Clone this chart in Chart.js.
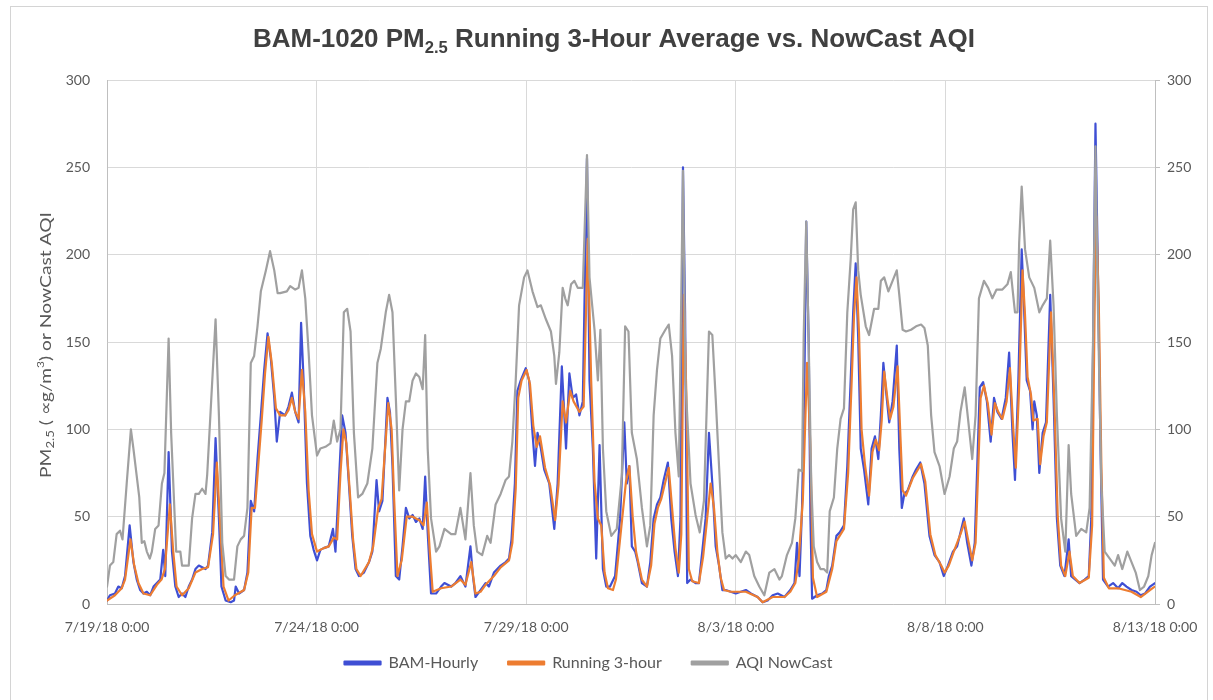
<!DOCTYPE html>
<html>
<head>
<meta charset="utf-8">
<script src="https://cdn.jsdelivr.net/npm/chart.js@4.4.1/dist/chart.umd.min.js"></script>
<style>
html,body{margin:0;padding:0;background:#fff;}
#wrap{width:1213px;height:700px;}
</style>
</head>
<body>
<div id="wrap"><canvas id="c" width="1213" height="700"></canvas></div>
<script>
// ---- data (x = days since 7/19/18 0:00) ----
const tickDays = [0, 5, 10, 15, 20, 25];
const tickLabels = ["7/19/18 0:00", "7/24/18 0:00", "7/29/18 0:00", "8/3/18 0:00", "8/8/18 0:00", "8/13/18 0:00"];
const yTicks = [0, 50, 100, 150, 200, 250, 300];
const seriesNames = ["BAM-Hourly", "Running 3-hour", "AQI NowCast"];

const bamDay = [
0,0.07,0.19,0.27,0.35,0.43,0.54,0.63,0.71,0.79,
0.87,0.95,1.03,1.11,1.19,1.27,1.34,1.39,1.47,1.55,
1.63,1.71,1.79,1.87,1.95,2.03,2.11,2.19,2.27,2.35,
2.41,2.51,2.59,2.67,2.73,2.83,2.95,3.03,3.07,3.15,
3.27,3.35,3.43,3.51,3.59,3.67,3.75,3.83,3.91,3.99,
4.05,4.13,4.25,4.33,4.41,4.49,4.57,4.63,4.69,4.77,
4.85,4.93,5.01,5.09,5.17,5.29,5.39,5.45,5.53,5.61,
5.69,5.77,5.85,5.93,6.01,6.13,6.25,6.33,6.43,6.49,
6.57,6.69,6.75,6.81,6.89,6.97,7.05,7.13,7.21,7.29,
7.37,7.45,7.53,7.59,7.65,7.73,7.85,7.97,8.05,8.21,
8.31,8.43,8.55,8.67,8.73,8.79,8.91,9.03,9.11,9.23,
9.39,9.51,9.59,9.65,9.73,9.79,9.87,9.99,10.07,10.15,
10.21,10.27,10.35,10.43,10.55,10.67,10.75,10.85,10.91,10.95,
11.03,11.11,11.19,11.27,11.35,11.45,11.51,11.59,11.67,11.75,
11.83,11.91,12.0,12.12,12.24,12.34,12.4,12.46,12.52,12.6,
12.66,12.76,12.88,12.96,13.04,13.12,13.2,13.28,13.38,13.46,
13.54,13.62,13.68,13.74,13.79,13.84,13.92,14.04,14.12,14.2,
14.28,14.36,14.44,14.52,14.6,14.68,14.76,14.88,15.0,15.12,
15.24,15.36,15.52,15.64,15.76,15.88,16.0,16.16,16.3,16.4,
16.46,16.52,16.58,16.64,16.68,16.74,16.78,16.82,16.94,17.06,
17.16,17.22,17.3,17.4,17.48,17.58,17.66,17.74,17.8,17.86,
17.92,17.98,18.06,18.16,18.24,18.32,18.4,18.46,18.52,18.6,
18.66,18.74,18.84,18.9,18.96,19.02,19.1,19.22,19.3,19.4,
19.5,19.62,19.74,19.86,19.96,20.06,20.18,20.28,20.36,20.44,
20.52,20.62,20.7,20.76,20.82,20.9,20.99,21.08,21.16,21.24,
21.34,21.44,21.52,21.6,21.66,21.74,21.82,21.88,21.94,22.02,
22.08,22.12,22.18,22.24,22.32,22.4,22.5,22.58,22.66,22.74,
22.84,22.94,23.0,23.1,23.2,23.32,23.42,23.48,23.54,23.58,
23.64,23.7,23.76,23.88,24.0,24.12,24.22,24.32,24.44,24.56,
24.66,24.76,24.88,25.0];
const bamVal = [
2,5,6,10,9,16,45,24,14,8,
6,7,5,10,12,14,31,16,87,30,
10,4,6,4,10,14,20,22,21,20,
22,41,95,49,10,2,1,2,10,6,
8,18,59,53,83,108,134,155,140,118,
93,110,108,113,121,110,104,161,128,69,
39,31,25,31,32,33,43,30,69,108,
98,69,39,20,16,18,24,30,71,53,
59,118,110,79,16,14,33,55,49,51,
47,49,43,73,41,6,6,10,12,10,
12,16,10,33,16,4,8,12,10,18,
22,24,26,37,69,122,128,135,128,98,
79,98,89,77,69,43,69,136,108,89,
132,118,120,108,116,255,128,89,26,91,
20,10,10,16,49,104,69,79,33,30,
24,12,10,24,49,57,61,71,81,49,
30,16,49,250,167,12,14,12,12,30,
49,98,69,33,22,8,8,7,6,7,
8,6,4,1,2,5,6,4,8,12,
35,16,55,134,219,148,49,3,5,6,
8,16,22,39,41,45,79,128,167,195,
152,89,77,57,89,96,83,108,138,118,
104,116,148,89,55,63,65,73,77,81,
69,39,28,24,16,22,30,33,41,49,
35,22,35,79,124,127,116,93,118,110,
106,118,144,98,71,128,203,167,128,122,
100,116,108,75,98,104,177,118,49,22,
16,37,16,14,12,14,16,49,187,275,
187,89,14,10,12,9,12,10,8,7,
5,6,10,12];

const runDay = [
0,0.19,0.35,0.43,0.56,0.65,0.75,0.87,1.03,1.19,
1.3,1.38,1.5,1.58,1.66,1.79,1.95,2.11,2.27,2.41,
2.53,2.62,2.7,2.78,2.9,3.05,3.27,3.37,3.45,3.53,
3.61,3.69,3.77,3.85,3.93,4.03,4.13,4.25,4.33,4.41,
4.49,4.57,4.65,4.73,4.81,4.89,5.01,5.17,5.29,5.41,
5.49,5.57,5.64,5.71,5.79,5.87,5.95,6.05,6.25,6.35,
6.47,6.55,6.71,6.79,6.85,6.93,7.03,7.15,7.29,7.45,
7.55,7.63,7.7,7.77,7.97,8.21,8.43,8.55,8.69,8.79,
8.91,9.03,9.23,9.39,9.59,9.67,9.75,9.81,9.89,10.01,
10.09,10.17,10.25,10.33,10.45,10.57,10.69,10.77,10.87,10.95,
11.05,11.13,11.27,11.37,11.47,11.55,11.63,11.71,11.79,11.87,
11.95,12.07,12.14,12.26,12.38,12.46,12.54,12.62,12.76,12.88,
12.98,13.06,13.14,13.22,13.3,13.4,13.48,13.56,13.64,13.7,
13.76,13.82,13.88,13.96,14.12,14.22,14.3,14.4,14.48,14.56,
14.64,14.72,14.88,15.24,15.52,15.64,15.88,16.16,16.3,16.42,
16.5,16.6,16.7,16.78,16.84,16.94,17.16,17.3,17.4,17.58,
17.68,17.76,17.82,17.88,17.94,18.0,18.08,18.18,18.26,18.34,
18.42,18.48,18.54,18.62,18.68,18.76,18.86,18.92,18.98,19.06,
19.22,19.42,19.52,19.64,19.76,19.9,19.98,20.08,20.2,20.36,
20.46,20.54,20.64,20.72,20.78,20.84,20.92,21.01,21.1,21.18,
21.26,21.36,21.46,21.54,21.62,21.68,21.76,21.84,21.9,21.96,
22.04,22.1,22.2,22.26,22.34,22.42,22.52,22.6,22.68,22.76,
22.86,22.96,23.04,23.2,23.42,23.5,23.56,23.6,23.66,23.72,
23.78,23.9,24.12,24.44,24.66,24.88,25.0];
const runVal = [
2,5,9,14,37,22,12,6,5,11,
14,20,57,30,10,5,9,18,20,21,
40,81,45,10,2,5,8,18,55,55,
80,105,132,153,138,112,108,108,111,118,
110,106,134,110,65,40,30,32,33,38,
37,75,100,92,65,37,20,16,24,33,
55,60,115,100,60,16,25,50,50,48,
45,58,30,7,9,10,14,11,24,6,
7,11,16,21,25,35,66,118,128,134,
126,102,90,96,78,68,48,68,116,104,
122,116,110,113,209,128,70,49,45,18,
9,8,14,42,70,79,50,30,14,10,
22,46,55,60,68,78,55,32,18,40,
177,120,20,13,12,27,45,69,55,30,
15,8,7,7,4,1,4,4,7,12,
25,60,138,90,15,4,7,20,36,43,
75,125,165,187,155,100,80,62,87,94,
88,105,133,117,106,113,136,100,65,62,
72,80,70,40,28,22,18,22,30,40,
47,37,25,35,75,118,125,115,97,115,
110,106,116,135,100,78,125,191,165,130,
120,105,106,80,96,104,167,115,50,22,
16,30,16,12,15,45,170,222,170,80,
15,9,9,7,4,8,10];

const aqiDay = [
0,0.07,0.15,0.23,0.31,0.37,0.47,0.57,0.63,0.71,
0.77,0.83,0.89,0.95,1.02,1.07,1.15,1.23,1.31,1.37,
1.47,1.53,1.65,1.75,1.79,1.95,2.03,2.11,2.19,2.27,
2.35,2.39,2.59,2.67,2.75,2.83,2.91,3.03,3.11,3.19,
3.27,3.35,3.43,3.51,3.59,3.67,3.79,3.89,3.99,4.07,
4.13,4.29,4.37,4.49,4.57,4.65,4.73,4.81,4.89,5.01,
5.09,5.21,5.33,5.41,5.49,5.57,5.65,5.73,5.81,5.89,
5.99,6.09,6.21,6.33,6.45,6.53,6.65,6.73,6.81,6.89,
6.97,7.05,7.13,7.21,7.29,7.37,7.45,7.53,7.59,7.65,
7.73,7.85,7.93,8.05,8.21,8.31,8.43,8.55,8.67,8.75,
8.83,8.95,9.07,9.15,9.27,9.39,9.51,9.59,9.67,9.75,
9.83,9.95,10.03,10.15,10.27,10.35,10.47,10.59,10.67,10.71,
10.79,10.87,10.93,10.99,11.07,11.15,11.23,11.35,11.45,11.51,
11.63,11.71,11.77,11.83,11.91,12.03,12.16,12.28,12.36,12.44,
12.52,12.64,12.76,12.88,12.96,13.04,13.12,13.2,13.32,13.4,
13.48,13.56,13.64,13.74,13.8,13.92,14.04,14.14,14.24,14.36,
14.44,14.52,14.6,14.68,14.76,14.84,14.92,15.0,15.12,15.24,
15.32,15.44,15.56,15.68,15.8,15.92,16.04,16.1,16.22,16.34,
16.42,16.5,16.58,16.62,16.68,16.74,16.8,16.86,16.94,17.02,
17.1,17.18,17.24,17.34,17.42,17.5,17.58,17.66,17.74,17.8,
17.86,17.92,17.98,18.1,18.18,18.3,18.4,18.46,18.54,18.64,
18.74,18.84,18.9,18.98,19.06,19.18,19.3,19.42,19.5,19.58,
19.66,19.74,19.86,19.98,20.1,20.2,20.28,20.36,20.46,20.54,
20.64,20.72,20.8,20.92,21.02,21.12,21.22,21.36,21.48,21.56,
21.66,21.72,21.76,21.82,21.9,22.0,22.12,22.24,22.32,22.42,
22.5,22.58,22.66,22.76,22.86,22.94,23.0,23.12,23.24,23.36,
23.44,23.52,23.58,23.64,23.72,23.8,23.92,24.04,24.12,24.22,
24.34,24.44,24.54,24.64,24.74,24.84,24.92,25.0];
const aqiVal = [
10,22,24,40,42,37,69,100,89,73,
61,35,36,30,26,30,43,45,69,75,
152,98,30,30,22,22,49,63,63,66,
63,74,163,108,35,16,14,14,33,37,
39,55,138,142,159,179,191,202,191,178,
178,179,182,180,181,191,175,144,108,85,
89,90,92,105,93,100,167,169,156,98,
61,63,69,89,138,146,167,177,167,118,
65,100,116,116,128,132,130,123,154,89,
49,30,33,43,40,40,55,37,75,45,
30,28,39,35,57,63,71,73,93,128,
171,187,191,179,170,171,163,156,142,126,
144,181,175,171,183,185,181,181,257,187,
157,128,157,89,53,39,43,73,159,156,
98,83,55,33,45,108,134,152,157,160,
142,98,73,248,128,69,51,41,59,156,
154,118,79,41,26,28,26,28,24,30,
28,16,10,5,18,20,14,16,28,35,
49,77,76,154,219,148,69,33,24,20,
20,18,53,61,89,106,112,167,197,226,
230,191,177,159,154,169,169,185,187,179,
185,191,177,157,156,157,159,160,158,148,
108,87,79,63,73,89,93,110,124,106,
83,108,175,185,181,175,180,180,183,190,
167,167,207,239,203,187,181,167,171,175,
208,171,108,49,30,91,63,39,43,41,
55,148,262,167,69,30,26,22,28,20,
30,24,18,8,10,16,28,35];

// ---- helpers ----
function pts(days, vals) { return days.map((d, i) => ({ x: d, y: vals[i] })); }

const TXT = '#595959';
const GRID = '#d9d9d9';
const AXIS = '#bfbfbf';
const tickFont = { family: 'Lato, "Open Sans", sans-serif', size: 14 };

function drawRich(ctx, parts, targetWidth) {
  let w = 0;
  parts.forEach(p => { ctx.font = p.font; p.w = ctx.measureText(p.text).width; w += p.w; });
  const s = targetWidth ? targetWidth / w : 1;
  ctx.scale(s, 1);
  let cx = -w / 2;
  parts.forEach(p => { ctx.font = p.font; ctx.fillText(p.text, cx, p.dy || 0); cx += p.w; });
}

const textPlugin = {
  id: 'texts',
  afterLayout(chart) {
    // move the legend block slightly left and up, as in the original
    const lg = chart.legend;
    if (lg) { lg.left -= 18; lg.right -= 18; lg.top -= 15; lg.bottom -= 15; }
  },
  beforeDraw(chart) {
    const ctx = chart.ctx;
    ctx.save();
    ctx.fillStyle = '#ffffff';
    ctx.fillRect(0, 0, chart.width, chart.height);
    ctx.strokeStyle = '#d4d4d4';
    ctx.lineWidth = 1;
    ctx.strokeRect(10.5, 6.5, 1197, 720);
    ctx.restore();
  },
  afterDraw(chart) {
    const ctx = chart.ctx;
    // title
    ctx.save();
    ctx.fillStyle = '#404040';
    ctx.textBaseline = 'alphabetic';
    ctx.translate(614, 47);
    const tf = '"Liberation Sans Narrow", "Liberation Sans", Arial, sans-serif';
    drawRich(ctx, [
      { text: 'BAM-1020 PM', font: 'bold 25px ' + tf },
      { text: '2.5', font: 'bold 16px ' + tf, dy: 6 },
      { text: ' Running 3-Hour Average vs. NowCast AQI', font: 'bold 25px ' + tf }
    ], 722);
    ctx.restore();
    // y axis title
    ctx.save();
    ctx.fillStyle = TXT;
    ctx.textBaseline = 'middle';
    ctx.translate(46, 345);
    ctx.rotate(-Math.PI / 2);
    const yf = 'Lato, "Open Sans", sans-serif';
    drawRich(ctx, [
      { text: 'PM', font: '16px ' + yf },
      { text: '2.5', font: '11px ' + yf, dy: 4 },
      { text: ' ( \u221Dg/m', font: '16px ' + yf },
      { text: '3', font: '10px ' + yf, dy: -5 },
      { text: ') or NowCast AQI', font: '16px ' + yf }
    ], 266);
    ctx.restore();
  }
};

const ctx = document.getElementById('c').getContext('2d');
new Chart(ctx, {
  type: 'line',
  data: {
    datasets: [
      { label: seriesNames[0], data: pts(bamDay, bamVal), borderColor: '#3f4fd4', backgroundColor: '#3f4fd4', order: 3 },
      { label: seriesNames[1], data: pts(runDay, runVal), borderColor: '#ed7d31', backgroundColor: '#ed7d31', order: 2 },
      { label: seriesNames[2], data: pts(aqiDay, aqiVal), borderColor: '#a0a0a0', backgroundColor: '#a0a0a0', order: 1 }
    ]
  },
  options: {
    responsive: false,
    animation: false,
    devicePixelRatio: 1,
    layout: { padding: { top: 80, left: 0, right: 0, bottom: 4 } },
    elements: {
      point: { radius: 0, hoverRadius: 0 },
      line: { tension: 0, borderWidth: 2.2, borderJoinStyle: 'round', borderCapStyle: 'round' }
    },
    plugins: {
      title: { display: false },
      tooltip: { enabled: false },
      legend: {
        position: 'bottom',
        labels: {
          boxWidth: 36, boxHeight: 3, padding: 30,
          font: { family: 'Lato, "Open Sans", sans-serif', size: 16 },
          color: TXT,
          sort: (a, b) => a.datasetIndex - b.datasetIndex
        }
      }
    },
    scales: {
      x: {
        type: 'linear', min: 0, max: 25,
        afterBuildTicks: s => { s.ticks = tickDays.map(v => ({ value: v })); },
        ticks: {
          autoSkip: false, maxRotation: 0, minRotation: 0, padding: 15,
          color: TXT, font: tickFont,
          callback: v => tickLabels[tickDays.indexOf(v)]
        },
        grid: { color: GRID, lineWidth: 1, drawTicks: false },
        border: { color: AXIS },
        afterFit: s => { s.height = 36; }
      },
      y: {
        position: 'left', min: 0, max: 300,
        afterBuildTicks: s => { s.ticks = yTicks.map(v => ({ value: v })); },
        ticks: { padding: 17, color: TXT, font: tickFont },
        grid: { color: GRID, lineWidth: 1, drawTicks: false },
        border: { color: AXIS },
        afterFit: s => { s.width = 107; }
      },
      y2: {
        position: 'right', min: 0, max: 300,
        afterBuildTicks: s => { s.ticks = yTicks.map(v => ({ value: v })); },
        ticks: { padding: 7, color: TXT, font: tickFont },
        grid: { drawOnChartArea: false, color: AXIS, tickLength: 5 },
        border: { color: AXIS },
        afterFit: s => { s.width = 58; }
      }
    }
  },
  plugins: [textPlugin]
});
</script>
</body>
</html>
